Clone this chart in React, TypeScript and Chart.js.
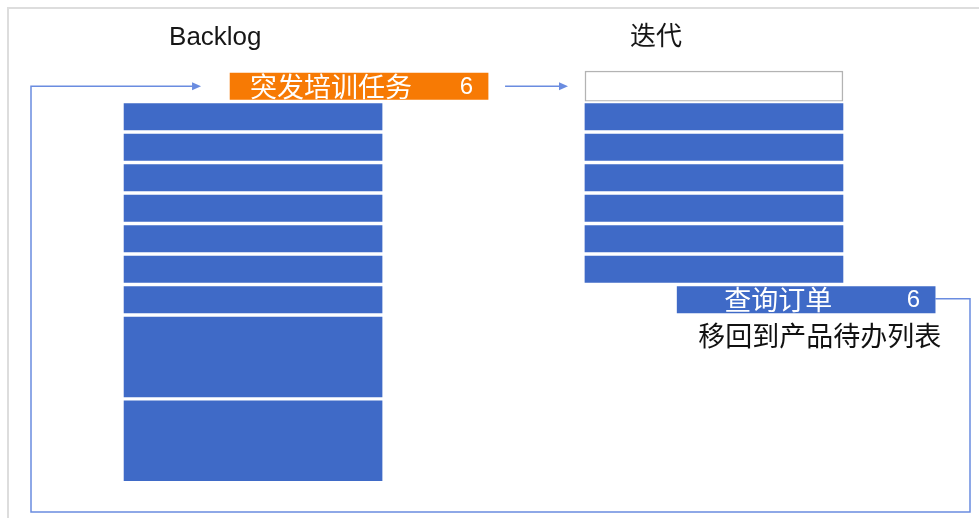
import React, { useEffect, useRef } from 'react';
import { Chart, registerables } from 'chart.js';

Chart.register(...registerables);

// ---- data ----
const COLUMN_LABELS = ['Backlog', '迭代'];
const COLUMN_X = [0, 1];
const BACKLOG_SIZES = [1, 1, 1, 1, 1, 1, 1, 2.75, 2.75];
const ITERATION_SIZES = [1, 1, 1, 1, 1, 1];
const INCOMING_LABEL = '突发培训任务';
const INCOMING_VALUE = 6;
const INCOMING_X = 0.23;
const INCOMING_SIZE = 1;
const REMOVED_LABEL = '查询订单';
const REMOVED_VALUE = 6;
const REMOVED_X = 1.2;
const REMOVED_SIZE = 1;
const REMOVED_NOTE = '移回到产品待办列表';

// ---- axis ranges ----
const X_MIN = -0.549;
const X_MAX = 1.575;
const Y_MIN = -3.328;
const Y_MAX = 13.656;

// ---- styles ----
const BLUE = '#3f6ac7';
const ORANGE = '#f77a04';
const LINE = '#6a8ce0';
const BAR_THICKNESS = 262;
const GAP = 2;
const CJK = '"Noto Sans CJK SC", sans-serif';
const LATIN = '"Liberation Sans", "Noto Sans CJK SC", sans-serif';

function stackRanges(sizes: number[], start = 0): [number, number][] {
  let s = start;
  return sizes.map((v) => {
    const r: [number, number] = [s, s + v];
    s += v;
    return r;
  });
}

const iterationTotal = ITERATION_SIZES.reduce((a, b) => a + b, 0);

function rectOf(chart: any, di: number, i = 0) {
  const el = chart.getDatasetMeta(di).data[i];
  const { x, y, base, width } = el.getProps(['x', 'y', 'base', 'width'], true);
  const top = Math.min(y, base);
  const bottom = Math.max(y, base);
  return { left: x - width / 2, right: x + width / 2, top, bottom, cx: x, cy: (top + bottom) / 2 };
}

function arrowHead(ctx: CanvasRenderingContext2D, x: number, y: number) {
  ctx.beginPath();
  ctx.moveTo(x, y);
  ctx.lineTo(x - 9, y - 4);
  ctx.lineTo(x - 9, y + 4);
  ctx.closePath();
  ctx.fill();
}

const flowPlugin = {
  id: 'flow',
  afterDatasetsDraw(chart: any) {
    const ctx: CanvasRenderingContext2D = chart.ctx;
    const xs = chart.scales.x;
    const ys = chart.scales.y;
    const area = chart.chartArea;
    ctx.save();

    // column titles
    ctx.font = `26px ${LATIN}`;
    ctx.fillStyle = '#161616';
    ctx.textAlign = 'left';
    ctx.textBaseline = 'alphabetic';
    COLUMN_LABELS.forEach((label, c) => {
      const left = xs.getPixelForValue(COLUMN_X[c]) - BAR_THICKNESS / 2 + GAP;
      ctx.fillText(label, left + 45, ys.getPixelForValue(-INCOMING_SIZE) - 26);
    });

    const incoming = rectOf(chart, 3);
    const removed = rectOf(chart, 4);
    const slot = rectOf(chart, 2);

    // labels inside moving items
    const drawItemLabel = (r: any, name: string, value: number) => {
      ctx.fillStyle = '#ffffff';
      ctx.font = `27px ${CJK}`;
      ctx.textAlign = 'center';
      ctx.textBaseline = 'middle';
      ctx.fillText(name, r.cx - 28, r.cy);
      ctx.font = `24px ${LATIN}`;
      ctx.textAlign = 'right';
      ctx.fillText(String(value), r.right - GAP - 15, r.cy + 1);
    };
    drawItemLabel(incoming, INCOMING_LABEL, INCOMING_VALUE);
    drawItemLabel(removed, REMOVED_LABEL, REMOVED_VALUE);

    // note under removed item
    ctx.fillStyle = '#111111';
    ctx.font = `27px ${CJK}`;
    ctx.textAlign = 'right';
    ctx.textBaseline = 'middle';
    ctx.fillText(REMOVED_NOTE, removed.right - GAP + 6, removed.bottom + 21);

    // connectors
    ctx.strokeStyle = LINE;
    ctx.fillStyle = LINE;
    ctx.lineWidth = 1.5;
    const loopRight = area.right - 9;
    const loopBottom = area.bottom - 6;
    const loopLeft = area.left + 31;
    const loopEnd = incoming.left + GAP - 29;
    ctx.beginPath();
    ctx.moveTo(removed.right - GAP, removed.cy - 1);
    ctx.lineTo(loopRight, removed.cy - 1);
    ctx.lineTo(loopRight, loopBottom);
    ctx.lineTo(loopLeft, loopBottom);
    ctx.lineTo(loopLeft, incoming.cy);
    ctx.lineTo(loopEnd - 6, incoming.cy);
    ctx.stroke();
    arrowHead(ctx, loopEnd, incoming.cy);

    const midStart = incoming.right - GAP + 17;
    const midEnd = slot.left - 17;
    ctx.beginPath();
    ctx.moveTo(midStart, incoming.cy);
    ctx.lineTo(midEnd - 6, incoming.cy);
    ctx.stroke();
    arrowHead(ctx, midEnd, incoming.cy);

    ctx.restore();
  },
};

export default function App() {
  const ref = useRef<HTMLCanvasElement>(null);
  useEffect(() => {
    const common = {
      barThickness: BAR_THICKNESS,
      grouped: false,
      borderSkipped: false,
      borderColor: '#ffffff',
      borderWidth: GAP,
    };
    const chart = new Chart(ref.current as HTMLCanvasElement, {
      type: 'bar',
      data: {
        datasets: [
          {
            ...common,
            label: COLUMN_LABELS[0],
            data: stackRanges(BACKLOG_SIZES).map((r) => ({ x: COLUMN_X[0], y: r })),
            backgroundColor: BLUE,
          },
          {
            ...common,
            label: COLUMN_LABELS[1],
            data: stackRanges(ITERATION_SIZES).map((r) => ({ x: COLUMN_X[1], y: r })),
            backgroundColor: BLUE,
          },
          {
            ...common,
            label: '空位',
            data: [{ x: COLUMN_X[1], y: [-INCOMING_SIZE, 0] }],
            backgroundColor: '#ffffff',
            borderColor: '#b3b3b3',
            borderWidth: 1.5,
            barThickness: BAR_THICKNESS - 2 * GAP,
          },
          {
            ...common,
            label: INCOMING_LABEL,
            data: [{ x: INCOMING_X, y: [-INCOMING_SIZE, 0] }],
            backgroundColor: ORANGE,
          },
          {
            ...common,
            label: REMOVED_LABEL,
            data: [{ x: REMOVED_X, y: [iterationTotal, iterationTotal + REMOVED_SIZE] }],
            backgroundColor: BLUE,
          },
        ],
      } as any,
      options: {
        animation: false,
        responsive: false,
        layout: { padding: 0 },
        plugins: { legend: { display: false }, tooltip: { enabled: false }, title: { display: false } },
        scales: {
          x: { type: 'linear', min: X_MIN, max: X_MAX, offset: false, display: false },
          y: { type: 'linear', min: Y_MIN, max: Y_MAX, reverse: true, display: false },
        },
      } as any,
      plugins: [flowPlugin],
    });
    if ((document as any).fonts && (document as any).fonts.load) {
      Promise.all([
        (document as any).fonts.load(`27px ${CJK}`, '突发培训任务迭代查询订单移回到产品待办列表'),
        (document as any).fonts.load(`26px ${LATIN}`, 'Backlog6'),
      ])
        .then(() => chart.update())
        .catch(() => {});
    }
    return () => chart.destroy();
  }, []);

  return (
    <div style={{ position: 'fixed', left: 0, top: 0, width: 979, height: 518, background: '#ffffff', overflow: 'hidden' }}>
      <div
        style={{
          position: 'absolute',
          left: 7,
          top: 7,
          right: 0,
          bottom: 0,
          borderTop: '2px solid #dddddd',
          borderLeft: '2px solid #dddddd',
        }}
      />
      <canvas ref={ref} width={979} height={518} style={{ position: 'absolute', left: 0, top: 0, width: 979, height: 518 }} />
    </div>
  );
}
